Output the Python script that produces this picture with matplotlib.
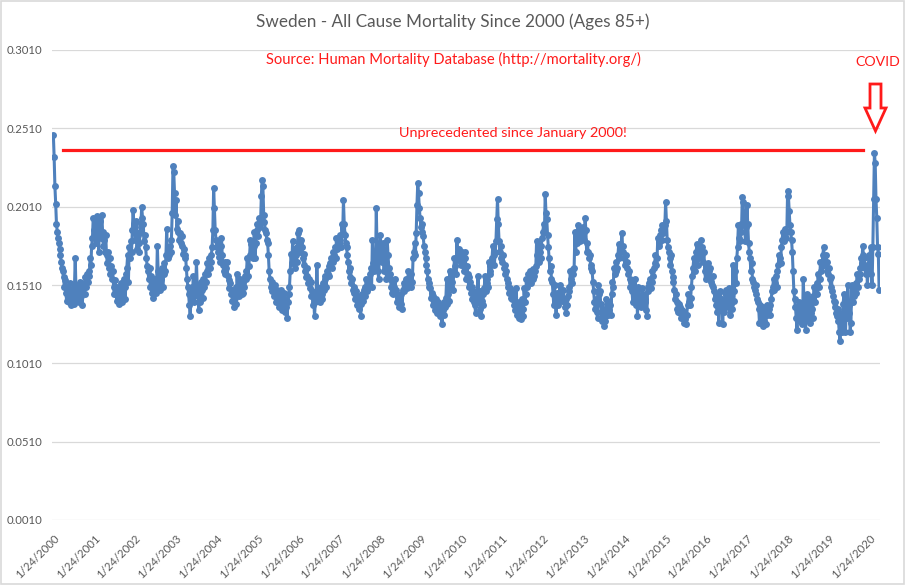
import matplotlib
matplotlib.use('Agg')
import matplotlib.pyplot as plt
import pandas as pd
from matplotlib.patches import Polygon, Rectangle

plt.rcParams['font.family'] = ['Lato', 'DejaVu Sans']

title = 'Sweden - All Cause Mortality Since 2000 (Ages 85+)'
source_text = 'Source: Human Mortality Database (http://mortality.org/)'
line_text = 'Unprecedented since January 2000!'
covid_text = 'COVID'

start_date = '2000-01-24'

v2000 = [.247,.233,.214,.203,.190,.185,.181,.178,.174,.170,.166,.162,.160,
         .156,.150,.154,.146,.141,.150,.147,.140,.152,.145,.138,.148,.143,
         .139,.150,.168,.147,.142,.151,.145,.140,.153,.144,.147,.138,.149,
         .152,.145,.156,.150,.158,.153,.160,.157,.168,.164,.176,.181,.194]
v2001 = [.186,.193,.178,.190,.195,.183,.172,.188,.192,.181,.196,.185,.176,
         .180,.172,.183,.170,.165,.172,.162,.168,.158,.163,.155,.160,.150,
         .145,.154,.148,.141,.150,.144,.139,.142,.152,.146,.140,.149,.155,
         .150,.142,.158,.162,.170,.153,.175,.168,.179,.172,.186,.199,.190]
v2002 = [.188,.180,.192,.174,.183,.172,.178,.185,.190,.201,.194,.190,.179,
         .183,.175,.168,.163,.160,.155,.162,.150,.157,.146,.152,.143,.149,
         .155,.146,.150,.176,.160,.152,.158,.148,.155,.162,.150,.158,.165,
         .160,.170,.187,.168,.174,.170,.176,.172,.180,.197,.227,.223,.210]
v2003 = [.196,.205,.187,.192,.185,.180,.184,.178,.182,.176,.171,.174,.168,
         .170,.162,.155,.150,.145,.138,.131,.142,.150,.146,.157,.140,.152,
         .148,.166,.150,.144,.135,.147,.140,.153,.148,.143,.155,.150,.158,
         .153,.160,.165,.158,.168,.162,.166,.170,.175,.186,.213,.200,.186]
v2004 = [.180,.175,.178,.172,.169,.166,.176,.181,.170,.164,.160,.166,.158,
         .162,.166,.157,.154,.149,.152,.145,.148,.141,.146,.137,.143,.150,
         .139,.158,.145,.150,.144,.155,.148,.145,.152,.146,.150,.157,.155,
         .160,.168,.157,.163,.170,.180,.177,.172,.168,.176,.185,.168,.178,.186]
v2005 = [.190,.182,.194,.188,.191,.208,.218,.214,.196,.191,.186,.184,.180,
         .178,.170,.160,.155,.150,.153,.147,.150,.144,.151,.146,.140,.148,
         .142,.137,.145,.140,.148,.135,.143,.138,.146,.134,.142,.137,.130,
         .140,.145,.150,.160,.171,.165,.179,.168,.174,.162,.170,.166,.175]
v2006 = [.184,.186,.178,.172,.180,.175,.168,.164,.171,.160,.156,.162,.157,
         .152,.155,.149,.153,.144,.147,.138,.142,.131,.140,.145,.164,.149,
         .143,.147,.140,.150,.145,.142,.152,.148,.155,.157,.150,.160,.158,
         .163,.157,.165,.168,.162,.172,.166,.170,.175,.168,.181,.174,.178]
v2007 = [.176,.183,.180,.175,.190,.184,.205,.190,.183,.178,.175,.170,.166,
         .160,.156,.162,.152,.155,.148,.150,.146,.142,.147,.138,.144,.140,
         .136,.143,.131,.139,.145,.141,.148,.150,.144,.155,.147,.152,.149,
         .155,.158,.162,.150,.180,.165,.160,.170,.163,.200,.172,.160,.155]
v2008 = [.172,.183,.176,.166,.178,.170,.160,.174,.165,.155,.180,.170,.162,
         .158,.155,.150,.146,.152,.145,.150,.155,.148,.145,.140,.143,.137,
         .142,.139,.145,.136,.148,.152,.147,.150,.155,.149,.153,.160,.151,
         .156,.150,.158,.153,.168,.172,.178,.170,.184,.202,.216,.210,.200]
v2009 = [.194,.188,.185,.190,.182,.176,.172,.168,.164,.160,.155,.150,.152,
         .149,.143,.146,.138,.144,.140,.135,.142,.137,.133,.140,.136,.131,
         .138,.134,.126,.135,.140,.132,.137,.143,.155,.139,.145,.141,.160,
         .150,.157,.153,.148,.160,.168,.163,.158,.180,.172,.167,.174,.170,.164]
v2010 = [.172,.168,.166,.160,.172,.168,.155,.163,.158,.150,.156,.153,.146,
         .150,.142,.147,.140,.138,.133,.145,.140,.157,.143,.147,.136,.131,
         .141,.138,.145,.149,.157,.147,.152,.155,.150,.166,.160,.158,.164,
         .168,.176,.170,.164,.172,.179,.193,.206,.190,.179,.172,.176,.168]
v2011 = [.166,.170,.162,.164,.158,.160,.155,.150,.152,.146,.149,.143,.147,
         .142,.145,.138,.141,.135,.149,.132,.137,.130,.140,.134,.129,.142,
         .136,.131,.149,.140,.145,.155,.150,.158,.153,.160,.156,.152,.159,
         .155,.161,.157,.160,.163,.179,.170,.175,.166,.172,.168,.176,.181]
v2012 = [.185,.190,.185,.209,.197,.193,.183,.175,.168,.160,.163,.155,.153,
         .145,.138,.151,.140,.132,.146,.142,.138,.144,.151,.143,.147,.141,
         .148,.142,.137,.142,.133,.138,.144,.150,.147,.160,.155,.152,.158,
         .161,.162,.185,.172,.183,.178,.189,.180,.184,.179,.186,.182,.188]
v2013 = [.185,.180,.194,.186,.172,.178,.172,.168,.170,.164,.162,.160,.153,
         .147,.140,.136,.142,.134,.130,.151,.145,.147,.139,.133,.128,.136,
         .125,.131,.128,.142,.136,.132,.140,.135,.138,.132,.145,.153,.150,
         .162,.158,.166,.160,.162,.170,.177,.168,.172,.175,.184,.176,.172]
v2014 = [.168,.164,.170,.166,.162,.158,.160,.155,.150,.153,.147,.140,.150,
         .145,.155,.138,.147,.131,.150,.144,.142,.140,.137,.149,.145,.138,
         .142,.140,.135,.131,.150,.147,.152,.155,.149,.153,.160,.157,.162,
         .165,.170,.164,.168,.181,.176,.178,.183,.186,.180,.189,.184,.187]
v2015 = [.189,.204,.192,.180,.175,.172,.168,.164,.170,.160,.153,.156,.148,
         .142,.145,.140,.136,.134,.139,.133,.137,.130,.135,.131,.127,.134,
         .129,.126,.132,.138,.145,.140,.138,.143,.150,.157,.162,.168,.160,
         .164,.172,.177,.164,.170,.168,.175,.180,.172,.175,.166,.172,.160,.155]
v2016 = [.162,.158,.165,.160,.156,.162,.153,.151,.157,.150,.147,.142,.145,
         .138,.134,.142,.127,.138,.147,.135,.142,.126,.140,.134,.146,.148,
         .140,.143,.137,.149,.132,.139,.145,.136,.164,.141,.147,.160,.152,
         .168,.175,.189,.181,.179,.190,.185,.207,.204,.195,.189,.179,.188]
v2017 = [.202,.190,.178,.172,.168,.160,.165,.155,.153,.150,.148,.151,.145,
         .142,.140,.136,.127,.138,.134,.130,.125,.137,.128,.133,.126,.132,
         .138,.134,.136,.132,.138,.142,.147,.150,.155,.148,.152,.157,.150,
         .160,.164,.170,.168,.165,.175,.180,.185,.179,.183,.187,.181,.185]
v2018 = [.211,.208,.198,.189,.185,.180,.172,.160,.147,.142,.137,.130,.122,
         .135,.140,.131,.128,.137,.133,.126,.155,.140,.128,.122,.134,.145,
         .131,.138,.127,.142,.133,.136,.130,.144,.150,.140,.146,.152,.145,
         .158,.150,.155,.166,.160,.163,.170,.175,.168,.164,.170,.166,.160]
v2019 = [.158,.162,.155,.150,.156,.147,.144,.141,.137,.140,.133,.131,.136,
         .128,.121,.115,.125,.133,.121,.139,.145,.141,.121,.135,.130,.151,
         .138,.133,.121,.127,.151,.140,.147,.144,.150,.146,.152,.158,.150,
         .155,.158,.162,.168,.165,.176,.170,.168,.162,.158,.164,.151,.160]
v2020 = [.170,.165,.175,.158,.151,.175,.206,.235,.229,.206,.194,.175,.171,.148]

series = (v2000 + v2001 + v2002 + v2003 + v2004 + v2005 + v2006 + v2007 + v2008 +
          v2009 + v2010 + v2011 + v2012 + v2013 + v2014 + v2015 + v2016 + v2017 +
          v2018 + v2019 + v2020)
dates = pd.date_range(start_date, periods=len(series), freq='7D')

yticks = [0.001, 0.051, 0.101, 0.151, 0.201, 0.251, 0.301]
ytick_labels = ['0.0010', '0.0510', '0.1010', '0.1510', '0.2010', '0.2510', '0.3010']
tick_years = list(range(2000, 2021))
xtick_dates = [pd.Timestamp(f'{y}-01-24') for y in tick_years]
xtick_labels = [f'1/24/{y}' for y in tick_years]

ref_level = 0.237
ref_start = pd.Timestamp('2000-04-15')
ref_end = pd.Timestamp('2019-12-01')

blue = '#4F81BD'
red = '#FF1A1A'
gray_text = '#595959'

W, H = 905, 585
fig = plt.figure(figsize=(W / 100, H / 100), dpi=100)
ax = fig.add_axes([52 / W, 65 / H, 828 / W, 470 / H])

ax.plot(dates, series, color=blue, lw=2.2, marker='o', ms=5.0,
        markeredgewidth=0, zorder=3)
ax.plot([ref_start, ref_end], [ref_level, ref_level], color=red, lw=2.3, zorder=4)

ax.set_ylim(0.001, 0.301)
ax.set_xlim(pd.Timestamp('2000-01-12'), pd.Timestamp('2020-04-28'))
ax.set_yticks(yticks)
ax.set_yticklabels(ytick_labels)
ax.set_xticks(xtick_dates)
ax.set_xticklabels(xtick_labels, rotation=45, ha='right', va='top',
                   rotation_mode='anchor')
ax.yaxis.grid(True, color='#D9D9D9', lw=0.9)
ax.set_axisbelow(True)
for s in ax.spines.values():
    s.set_visible(False)
ax.tick_params(axis='both', length=0, colors=gray_text, labelsize=8.2)
ax.tick_params(axis='y', pad=7)
ax.tick_params(axis='x', pad=9)

fig.text(453 / W, 1 - 22 / H, title, ha='center', va='center',
         fontsize=12.3, color=gray_text)
fig.text(453 / W, 1 - 59 / H, source_text, ha='center', va='center',
         fontsize=10.6, color=red)
fig.text(513 / W, 1 - 133 / H, line_text, ha='center', va='center',
         fontsize=10.4, color=red)
fig.text(878 / W, 1 - 62 / H, covid_text, ha='center', va='center',
         fontsize=10.2, color=red)

arrow_px = [(870, 84), (881, 84), (881, 108), (886, 108), (875.5, 131),
            (865, 108), (870, 108)]
arrow = Polygon([(x / W, 1 - y / H) for x, y in arrow_px], closed=True,
                fill=False, edgecolor=red, lw=2.0, transform=fig.transFigure)
fig.patches.append(arrow)
fig.patches.append(Rectangle((0.001, 0.001), 0.998, 0.998, transform=fig.transFigure,
                             fill=False, edgecolor='#D9D9D9', lw=1.2))

fig.savefig('out.png', dpi=100)
